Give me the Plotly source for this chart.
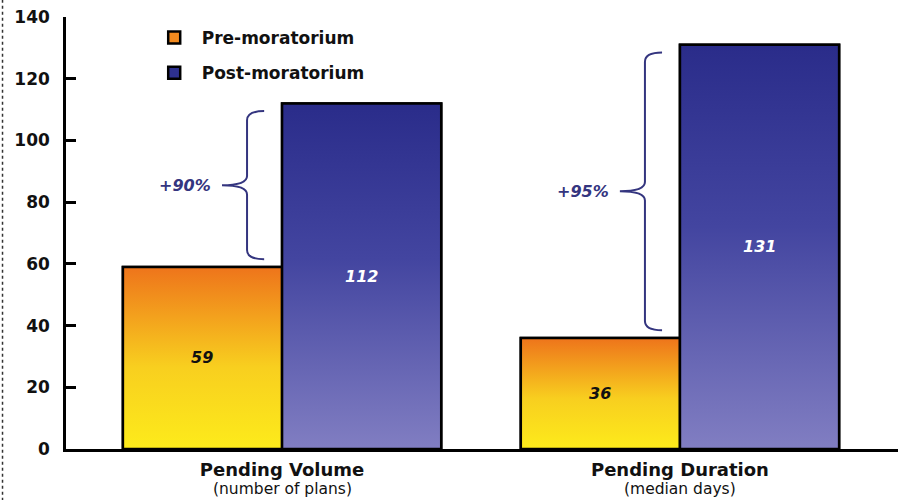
import plotly.graph_objects as go

# ---- data ----
categories = ["Pending Volume", "Pending Duration"]
subtitles = ["(number of plans)", "(median days)"]
series_names = ["Pre-moratorium", "Post-moratorium"]
pre_values = [59, 36]
post_values = [112, 131]
change_labels = ["+90%", "+95%"]
y_ticks = [0, 20, 40, 60, 80, 100, 120, 140]

# ---- styling ----
FONT = "DejaVu Sans, Liberation Sans, Arial, sans-serif"
W = 0.4
PRE_SOLID = "#F28A1F"
POST_SOLID = "#2E3190"
PRE_SCALE = [[0, "#FDEB1B"], [0.45, "#F8CF1F"], [1, "#EE741B"]]
POST_SCALE = [[0, "#817EC2"], [0.55, "#4345A0"], [1, "#2A2C8A"]]
NAVY = "#34357F"

group_x = list(range(len(categories)))

fig = go.Figure()

# legend-bearing bars (solid), drawn by the library
fig.add_trace(go.Bar(x=group_x, y=pre_values, width=W, offset=-W, name=series_names[0],
                     marker=dict(color=PRE_SOLID, line=dict(color="black", width=2.5)),
                     legendgroup="pre", hoverinfo="skip"))
fig.add_trace(go.Bar(x=group_x, y=post_values, width=W, offset=0, name=series_names[1],
                     marker=dict(color=POST_SOLID, line=dict(color="black", width=2.5)),
                     legendgroup="post", hoverinfo="skip"))

# gradient overlays matching the bars
for g, v in zip(group_x, pre_values):
    x0, x1 = g - W, g
    fig.add_trace(go.Scatter(x=[x0, x1, x1, x0, x0], y=[0, 0, v, v, 0], mode="lines",
                             fill="toself", fillgradient=dict(type="vertical", colorscale=PRE_SCALE),
                             line=dict(color="black", width=2.5), showlegend=False,
                             legendgroup="pre", hoverinfo="skip"))
for g, v in zip(group_x, post_values):
    x0, x1 = g, g + W
    fig.add_trace(go.Scatter(x=[x0, x1, x1, x0, x0], y=[0, 0, v, v, 0], mode="lines",
                             fill="toself", fillgradient=dict(type="vertical", colorscale=POST_SCALE),
                             line=dict(color="black", width=2.5), showlegend=False,
                             legendgroup="post", hoverinfo="skip"))

annotations = []
shapes = []
for g, pre, post, lab, sub in zip(group_x, pre_values, post_values, change_labels, subtitles):
    annotations.append(dict(x=g - W / 2, y=pre / 2, text=f"<b><i>{pre}</i></b>", showarrow=False,
                            font=dict(family=FONT, size=16, color="#111")))
    annotations.append(dict(x=g + W / 2, y=post / 2, text=f"<b><i>{post}</i></b>", showarrow=False,
                            font=dict(family=FONT, size=16, color="white")))
    # curly brace
    spine = g - 0.088
    tip = g - 0.151
    end = g - 0.045
    top = post - 2.5
    bot = pre + 2.5
    mid = (pre + post) / 2
    r = 3.0
    path = (f"M {end},{top} Q {spine},{top} {spine},{top - r} "
            f"L {spine},{mid + r} Q {spine},{mid} {tip},{mid} "
            f"Q {spine},{mid} {spine},{mid - r} "
            f"L {spine},{bot + r} Q {spine},{bot} {end},{bot}")
    shapes.append(dict(type="path", path=path, xref="x", yref="y",
                       line=dict(color=NAVY, width=2)))
    annotations.append(dict(x=tip - 0.022, y=mid, text=f"<b><i>{lab}</i></b>", showarrow=False,
                            xanchor="right", font=dict(family=FONT, size=16, color=NAVY)))
    # subtitle under category label
    annotations.append(dict(x=g, y=0, xref="x", yref="paper", yanchor="middle", yshift=-40,
                            text=sub, showarrow=False,
                            font=dict(family=FONT, size=15.5, color="#111")))

# dotted left border
shapes.append(dict(type="line", xref="paper", yref="paper", x0=-0.0763, x1=-0.0763,
                   y0=-0.12, y1=1.04, line=dict(color="#333", width=1.5, dash="dot")))

fig.update_layout(
    width=899, height=500,
    margin=dict(l=66, r=1, t=17, b=51, autoexpand=False),
    paper_bgcolor="white", plot_bgcolor="white",
    font=dict(family=FONT, color="#111"),
    barmode="overlay",
    showlegend=True,
    legend=dict(x=0.097, y=0.993, xanchor="left", yanchor="top", itemwidth=45,
                font=dict(family=FONT, size=17, color="#111", weight="bold"),
                bgcolor="rgba(0,0,0,0)", tracegroupgap=10, traceorder="grouped"),
    xaxis=dict(range=[-0.543, 1.548], tickvals=group_x, ticktext=categories,
               showline=True, linecolor="black", linewidth=2.5, ticks="",
               showgrid=False, zeroline=False, automargin=False, ticklabelstandoff=3,
               tickfont=dict(family=FONT, size=18, color="#111", weight="bold")),
    yaxis=dict(range=[0, 140], tickvals=y_ticks, ticks="inside", ticklen=10, tickwidth=2.5,
               tickcolor="black", showline=True, linecolor="black", linewidth=2.5,
               showgrid=False, zeroline=False, ticklabelstandoff=10, automargin=False,
               tickfont=dict(family=FONT, size=17, color="#111", weight="bold")),
    annotations=annotations,
    shapes=shapes,
)

post_js = ("document.body.style.margin='0';document.body.style.overflow='hidden';"
           "var gd=document.getElementById('{plot_id}');"
           "Plotly.relayout(gd,{width:899,height:500});")
fig.write_html("out.html", post_script=post_js, config={"displayModeBar": False})
